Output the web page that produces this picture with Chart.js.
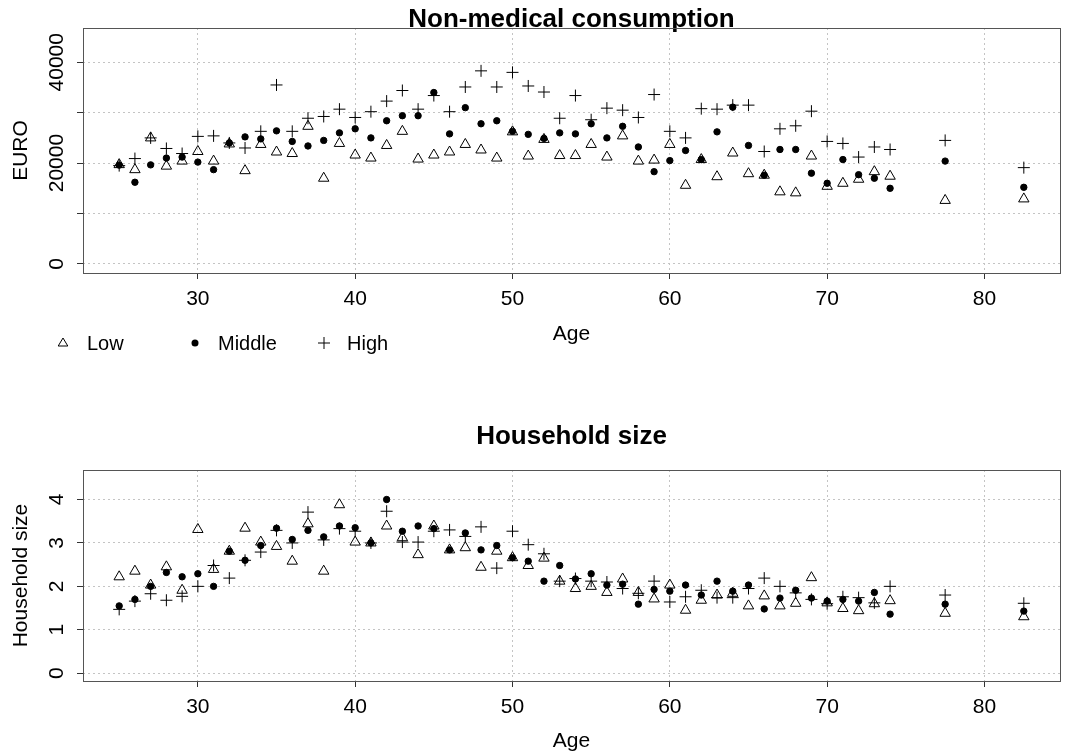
<!DOCTYPE html>
<html lang="en">
<head>
  <meta charset="UTF-8">
  <title>Consumption and household size by age</title>
  <script src="https://cdn.jsdelivr.net/npm/chart.js"></script>
  <style>
    body { margin: 0; background: #fff; }
    canvas { display: block; }
  </style>
</head>
<body>
<canvas id="consChart" width="1067" height="377"></canvas>
<canvas id="hhChart" width="1067" height="377"></canvas>

<script>
  // ages of the groups (last two are the open age classes)
  var ages = [25, 26, 27, 28, 29, 30, 31, 32, 33, 34, 35, 36, 37, 38, 39, 40, 41, 42, 43, 44,
              45, 46, 47, 48, 49, 50, 51, 52, 53, 54, 55, 56, 57, 58, 59, 60, 61, 62, 63, 64,
              65, 66, 67, 68, 69, 70, 71, 72, 73, 74, 77.5, 82.5];
  var ageTicks = [30, 40, 50, 60, 70, 80];

  // non-medical consumption (EURO)
  var consLow = [19700, 18700, 25000, 19400, 20400, 22300, 20400, 23800, 18500, 23700,
                 22200, 21900, 27300, 17000, 23900, 21600, 21000, 23500, 26300, 20800,
                 21600, 22200, 23700, 22600, 21000, 26200, 21400, 24700, 21500, 21500,
                 23700, 21200, 25400, 20400, 20600, 23700, 15600, 20700, 17300, 22000,
                 17900, 17600, 14300, 14100, 21400, 15400, 16000, 16800, 18300, 17400,
                 12600, 12900];
  var consMiddle = [19600, 16200, 19650, 21000, 21200, 20200, 18700, 24000, 25200, 24800,
                    26400, 24300, 23400, 24500, 26000, 26800, 25000, 28400, 29400, 29400,
                    34000, 25800, 31000, 27800, 28400, 26300, 25700, 24900, 26000, 25800,
                    27800, 25000, 27300, 23200, 18300, 20500, 22500, 20700, 26200, 31100,
                    23500, 17600, 22700, 22700, 18000, 16000, 20700, 17700, 17000, 15000,
                    20400, 15200];
  var consHigh = [19500, 20900, 25000, 22900, 21900, 25300, 25400, 24000, 23000, 26300,
                  35500, 26300, 28900, 29250, 30700, 29050, 30200, 32300, 34400, 30700,
                  33400, 30200, 35100, 38300, 35100, 38000, 35300, 34100, 28900, 33400,
                  28600, 30900, 30500, 29050, 33600, 26300, 25000, 30800, 30700, 31500,
                  31500, 22300, 26800, 27400, 30300, 24300, 23900, 21200, 23200, 22700,
                  24500, 19100];
  var consTicks = [0, 10000, 20000, 30000, 40000];
  var consLabels = [0, 20000, 40000];

  // household size
  var hhLow = [2.22, 2.35, 2.03, 2.45, 1.91, 3.31, 2.39, 2.81, 3.34, 3.02,
               2.92, 2.58, 3.44, 2.35, 3.88, 3.02, 3.00, 3.39, 3.12, 2.73,
               3.39, 2.84, 2.89, 2.44, 2.81, 2.66, 2.48, 2.65, 2.12, 1.95,
               2.00, 1.86, 2.17, 1.86, 1.71, 2.03, 1.45, 1.68, 1.80, 1.84,
               1.55, 1.78, 1.55, 1.61, 2.20, 1.62, 1.49, 1.44, 1.60, 1.67,
               1.38, 1.30];
  var hhMiddle = [1.55, 1.70, 2.00, 2.32, 2.22, 2.29, 2.00, 2.81, 2.60, 2.94,
                  3.34, 3.08, 3.29, 3.14, 3.39, 3.35, 3.00, 4.00, 3.27, 3.39,
                  3.33, 2.84, 3.23, 2.84, 2.94, 2.66, 2.58, 2.12, 2.48, 2.17,
                  2.29, 2.03, 2.05, 1.59, 1.93, 1.89, 2.03, 1.80, 2.12, 1.89,
                  2.03, 1.48, 1.73, 1.91, 1.73, 1.66, 1.70, 1.66, 1.86, 1.36,
                  1.59, 1.43];
  var hhHigh = [1.47, 1.66, 1.83, 1.68, 1.77, 2.00, 2.48, 2.19, 2.60, 2.79,
                3.29, 3.00, 3.71, 3.07, 3.33, 3.27, 3.00, 3.73, 3.02, 3.02,
                3.27, 3.30, 3.15, 3.37, 2.42, 3.27, 2.96, 2.75, 2.12, 2.18,
                2.12, 2.10, 1.95, 1.84, 2.12, 1.64, 1.76, 1.91, 1.74, 1.74,
                1.95, 2.19, 2.00, 1.85, 1.70, 1.60, 1.76, 1.74, 1.62, 2.00,
                1.80, 1.61];
  var hhTicks = [0, 1, 2, 3, 4];
  var hhLabels = [0, 1, 2, 3, 4];

  var groupNames = ['Low', 'Middle', 'High'];

  Chart.defaults.font.family = "'Liberation Sans', Arial, sans-serif";
  Chart.defaults.color = '#000';

  var FONT = "'Liberation Sans', Arial, sans-serif";
  var gridColor = '#c4c4c4';
  var frameColor = '#555';

  function toPoints(values) {
    return ages.map(function (a, i) { return { x: a, y: values[i] }; });
  }

  function makeDatasets(low, middle, high) {
    return [
      { label: groupNames[0], data: toPoints(low), pointStyle: 'triangle', pointRadius: 6,
        borderColor: '#000', backgroundColor: 'rgba(0,0,0,0)', pointBorderWidth: 1 },
      { label: groupNames[1], data: toPoints(middle), pointStyle: 'circle', pointRadius: 3.2,
        borderColor: '#000', backgroundColor: '#000', pointBorderWidth: 1 },
      { label: groupNames[2], data: toPoints(high), pointStyle: 'cross', pointRadius: 6,
        borderColor: '#000', backgroundColor: '#000', pointBorderWidth: 1 }
    ];
  }

  // box around plot, rotated y labels, legend
  function extrasPlugin(yLabels, withLegend) {
    return {
      id: 'extras',
      afterDraw: function (chart) {
        var ctx = chart.ctx;
        var a = chart.chartArea;
        var ys = chart.scales.y;
        ctx.save();
        ctx.strokeStyle = frameColor;
        ctx.lineWidth = 1;
        ctx.strokeRect(Math.round(a.left) + 0.5, Math.round(a.top) + 0.5,
                       Math.round(a.right - a.left), Math.round(a.bottom - a.top));

        ctx.fillStyle = '#000';
        ctx.font = '21px ' + FONT;
        ctx.textAlign = 'center';
        ctx.textBaseline = 'middle';
        yLabels.forEach(function (v) {
          ctx.save();
          ctx.translate(57, ys.getPixelForValue(v));
          ctx.rotate(-Math.PI / 2);
          ctx.fillText(String(v), 0, 0);
          ctx.restore();
        });

        if (withLegend) {
          var ly = 343;
          var symX = [63, 195, 324];
          var txtX = [87, 218, 347];
          ctx.strokeStyle = '#000';
          ctx.lineWidth = 1;
          // triangle
          ctx.beginPath();
          ctx.moveTo(symX[0], ly - 5);
          ctx.lineTo(symX[0] + 4.8, ly + 3);
          ctx.lineTo(symX[0] - 4.8, ly + 3);
          ctx.closePath();
          ctx.stroke();
          // dot
          ctx.beginPath();
          ctx.arc(symX[1], ly, 3.5, 0, Math.PI * 2);
          ctx.fill();
          // plus
          ctx.beginPath();
          ctx.moveTo(symX[2] - 6, ly); ctx.lineTo(symX[2] + 6, ly);
          ctx.moveTo(symX[2], ly - 6); ctx.lineTo(symX[2], ly + 6);
          ctx.stroke();

          ctx.font = '20px ' + FONT;
          ctx.textAlign = 'left';
          groupNames.forEach(function (n, i) { ctx.fillText(n, txtX[i], ly + 1); });
        }
        ctx.restore();
      }
    };
  }

  function chartOptions(o) {
    return {
      responsive: false,
      animation: false,
      events: [],
      layout: { padding: { left: 0, right: 6, top: 0, bottom: 0 } },
      plugins: {
        legend: { display: false },
        tooltip: { enabled: false },
        title: {
          display: true, text: o.title, fullSize: false, color: '#000',
          font: { size: 26, weight: 'bold', lineHeight: 1 },
          padding: o.titlePad
        }
      },
      scales: {
        x: {
          type: 'linear', min: 22.7, max: 84.8,
          afterBuildTicks: function (s) { s.ticks = ageTicks.map(function (v) { return { value: v }; }); },
          afterFit: function (s) { s.height = o.xHeight; },
          grid: { color: gridColor, tickColor: '#333', tickLength: 6, tickBorderDash: [] },
          border: { display: false, dash: [2, 3] },
          ticks: { padding: 8, font: { size: 21 }, color: '#000', maxRotation: 0, autoSkip: false },
          title: { display: true, text: 'Age', font: { size: 21 }, color: '#000',
                   padding: { top: 0, bottom: o.agePad } }
        },
        y: {
          type: 'linear', min: o.yMin, max: o.yMax,
          afterBuildTicks: function (s) { s.ticks = o.yTicks.map(function (v) { return { value: v }; }); },
          afterFit: function (s) { s.width = 83; },
          grid: { color: gridColor, tickColor: '#333', tickLength: 6, tickBorderDash: [] },
          border: { display: false, dash: [2, 3] },
          ticks: { display: false },
          title: { display: true, text: o.yTitle, font: { size: 21 }, color: '#000',
                   padding: { top: 9, bottom: 0 } }
        }
      }
    };
  }

  new Chart(document.getElementById('consChart').getContext('2d'), {
    type: 'scatter',
    data: { datasets: makeDatasets(consLow, consMiddle, consHigh) },
    options: chartOptions({
      title: 'Non-medical consumption', titlePad: { top: 7, bottom: -5 },
      xHeight: 104, agePad: 30,
      yMin: -1800, yMax: 46800, yTicks: consTicks, yTitle: 'EURO'
    }),
    plugins: [extrasPlugin(consLabels, true)]
  });

  new Chart(document.getElementById('hhChart').getContext('2d'), {
    type: 'scatter',
    data: { datasets: makeDatasets(hhLow, hhMiddle, hhHigh) },
    options: chartOptions({
      title: 'Household size', titlePad: { top: 47, bottom: 20 },
      xHeight: 73, agePad: 0,
      yMin: -0.18, yMax: 4.68, yTicks: hhTicks, yTitle: 'Household size'
    }),
    plugins: [extrasPlugin(hhLabels, false)]
  });
</script>
</body>
</html>
